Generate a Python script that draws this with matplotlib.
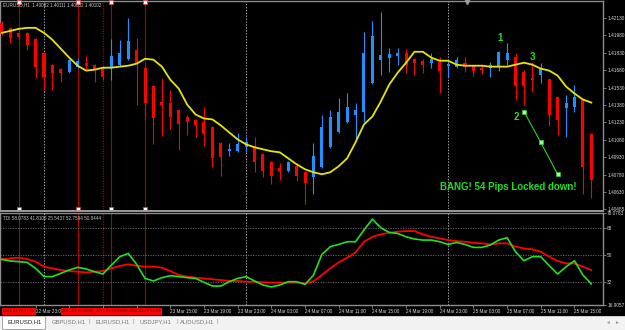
import matplotlib
matplotlib.use("Agg")
import matplotlib.pyplot as plt
from matplotlib.patches import Rectangle
import numpy as np
import pandas as pd

plt.rcParams['font.family'] = ['Liberation Sans', 'DejaVu Sans']

# ---------------- data ----------------
times = pd.date_range("2011-03-22 19:00", periods=71, freq="h")

opens = [1.42087, 1.42044, 1.42001, 1.42001, 1.41950, 1.41830, 1.41727, 1.41693, 1.41667, 1.41710,
         1.41744, 1.41727, 1.41701, 1.41710, 1.41727, 1.41778, 1.41855, 1.41701, 1.41547, 1.41410,
         1.41393, 1.41333, 1.41281, 1.41247, 1.41230, 1.41187, 1.41050, 1.40982, 1.40982, 1.41016,
         1.41024, 1.40956, 1.40887, 1.40836, 1.40810, 1.40853, 1.40801, 1.40759, 1.40844, 1.41016,
         1.41144, 1.41230, 1.41298, 1.41316, 1.41573, 1.41770, 1.41787, 1.41804, 1.41830, 1.41778,
         1.41761, 1.41744, 1.41753, 1.41718, 1.41710, 1.41744, 1.41718, 1.41701, 1.41701, 1.41710,
         1.41770, 1.41796, 1.41667, 1.41616, 1.41641, 1.41607, 1.41453, 1.41350, 1.41367, 1.41427,
         1.41127]
highs = [1.42104, 1.42053, 1.42018, 1.42010, 1.41958, 1.41838, 1.41736, 1.41701, 1.41778, 1.41787,
         1.41804, 1.41736, 1.41718, 1.41950, 1.41941, 1.42130, 1.41958, 1.41718, 1.41556, 1.41616,
         1.41513, 1.41341, 1.41290, 1.41256, 1.41367, 1.41196, 1.41059, 1.41050, 1.41136, 1.41101,
         1.41101, 1.40964, 1.40896, 1.40879, 1.40896, 1.40870, 1.40810, 1.41050, 1.41290, 1.41341,
         1.41444, 1.41487, 1.41393, 1.42010, 1.42104, 1.42181, 1.41873, 1.41873, 1.41864, 1.41787,
         1.41778, 1.41830, 1.41796, 1.41753, 1.41796, 1.41796, 1.41727, 1.41736, 1.41753, 1.41847,
         1.41915, 1.41830, 1.41684, 1.41753, 1.41744, 1.41607, 1.41453, 1.41470, 1.41556, 1.41436,
         1.41136]
lows = [1.41984, 1.41915, 1.41941, 1.41855, 1.41616, 1.41513, 1.41513, 1.41581, 1.41658, 1.41701,
        1.41684, 1.41581, 1.41598, 1.41598, 1.41718, 1.41770, 1.41384, 1.41256, 1.41041, 1.41110,
        1.41170, 1.40990, 1.41118, 1.41101, 1.41024, 1.40844, 1.40767, 1.40939, 1.40973, 1.40973,
        1.40801, 1.40759, 1.40699, 1.40733, 1.40801, 1.40724, 1.40527, 1.40613, 1.40836, 1.41007,
        1.41136, 1.41221, 1.41067, 1.41238, 1.41564, 1.41641, 1.41667, 1.41727, 1.41658, 1.41641,
        1.41658, 1.41701, 1.41487, 1.41624, 1.41701, 1.41667, 1.41633, 1.41650, 1.41624, 1.41676,
        1.41727, 1.41427, 1.41376, 1.41496, 1.41573, 1.41196, 1.41118, 1.41101, 1.41324, 1.40613,
        1.40579]
closes = [1.42001, 1.41958, 1.41967, 1.41898, 1.41710, 1.41624, 1.41658, 1.41658, 1.41770, 1.41761,
          1.41718, 1.41684, 1.41624, 1.41804, 1.41830, 1.41933, 1.41744, 1.41401, 1.41264, 1.41376,
          1.41273, 1.41213, 1.41230, 1.41204, 1.41127, 1.40921, 1.40930, 1.40999, 1.41041, 1.41059,
          1.40887, 1.40810, 1.40767, 1.40810, 1.40887, 1.40767, 1.40707, 1.40939, 1.41187, 1.41273,
          1.41324, 1.41367, 1.41333, 1.41830, 1.41975, 1.41813, 1.41821, 1.41830, 1.41727, 1.41744,
          1.41727, 1.41778, 1.41676, 1.41736, 1.41770, 1.41710, 1.41676, 1.41684, 1.41727, 1.41838,
          1.41830, 1.41547, 1.41547, 1.41598, 1.41701, 1.41298, 1.41247, 1.41393, 1.41453, 1.40844,
          1.40733]
ma = [1.42001, 1.42018, 1.42035, 1.42044, 1.42044, 1.42001, 1.41941, 1.41864, 1.41787, 1.41718,
      1.41676, 1.41684, 1.41701, 1.41701, 1.41710, 1.41718, 1.41736, 1.41778, 1.41770, 1.41710,
      1.41598, 1.41521, 1.41384, 1.41298, 1.41264, 1.41256, 1.41204, 1.41144, 1.41084, 1.41041,
      1.41016, 1.40999, 1.40982, 1.40973, 1.40921, 1.40870, 1.40827, 1.40801, 1.40784, 1.40801,
      1.40853, 1.40921, 1.41059, 1.41213, 1.41281, 1.41410, 1.41556, 1.41658, 1.41744, 1.41838,
      1.41838, 1.41787, 1.41761, 1.41761, 1.41727, 1.41718, 1.41718, 1.41718, 1.41710, 1.41710,
      1.41710, 1.41727, 1.41744, 1.41727, 1.41693, 1.41676, 1.41633, 1.41539, 1.41479, 1.41427,
      1.41401]
tdi_green = [47.1, 46.0, 45.6, 45.1, 41.1, 35.6, 35.6, 37.8, 40.0, 41.8,
             40.7, 38.9, 37.3, 43.3, 48.9, 51.1, 43.8, 34.4, 32.7, 34.9,
             36.2, 35.6, 34.9, 34.4, 31.8, 29.3, 29.3, 32.2, 34.4, 35.6,
             32.7, 30.0, 28.7, 30.0, 32.2, 32.2, 30.4, 36.5, 50.4, 55.6,
             57.1, 58.9, 58.9, 66.7, 74.0, 68.2, 65.1, 64.4, 62.2, 60.7,
             60.0, 60.0, 58.9, 57.1, 58.4, 57.1, 55.1, 55.1, 56.7, 60.0,
             61.6, 52.2, 46.2, 48.9, 48.9, 42.9, 37.3, 42.2, 46.2, 36.7,
             30.7]
tdi_red = [47.1, 47.8, 48.2, 47.3, 45.6, 42.2, 41.1, 40.0, 39.3, 38.9,
           38.4, 38.9, 39.3, 41.1, 42.7, 43.8, 42.9, 42.2, 42.2, 41.6,
           39.3, 36.7, 35.6, 34.9, 34.4, 33.8, 33.3, 32.7, 32.7, 32.2,
           32.2, 31.8, 31.6, 31.6, 31.6, 31.6, 31.1, 32.5, 36.7, 41.1,
           45.1, 48.2, 51.8, 58.9, 62.2, 63.8, 64.9, 65.6, 66.0, 66.0,
           63.8, 62.2, 61.1, 60.0, 59.3, 58.9, 58.2, 57.8, 57.1, 57.8,
           57.8, 55.6, 54.4, 53.8, 52.2, 48.9, 46.0, 44.4, 44.4, 42.2,
           40.0]

price_ticks = [1.42130, 1.41980, 1.41830, 1.41680, 1.41530, 1.41380, 1.41230,
               1.41080, 1.40930, 1.40780, 1.40630, 1.40485]
tdi_ticks = [16.9057, 32, 50, 68, 78.0783]
tdi_tick_labels = ["16.9057", "32", "50", "68", "78.0783"]

vline_idx = [2, 9, 13, 17]
vline_labels = ["2011.03.22 21:00", "2011.03.23 04:00", "2011.03.23 08:00", "2011.03.23 12:00"]
dotted_vline_idx = [12]
day_sep_idx = [5, 29, 53]
hidden_tick_idx = [8, 12, 16]   # time labels covered by the red line labels

header_text = "EURUSD,H1  1.40082 1.40111 1.40052 1.40102"
tdi_text = "TDI 58.0783 41.8100 25.5437 52.7594 50.8444"

num_labels = ["1", "2", "3"]
num_idx = [59.2, 61.05, 63.0]
num_price = [1.41958, 1.41273, 1.41795]
trend_idx = [62, 64, 66]
trend_price = [1.41324, 1.41058, 1.40784]
bang_text = "BANG! 54 Pips Locked down!"
bang_idx = 60.1
bang_price = 1.40673

tabs = ["EURUSD,H1", "GBPUSD,H1", "EURUSD,H1", "USDJPY,H1", "AUDUSD,H1"]

# ---------------- figure ----------------
W, H = 625, 330
fig = plt.figure(figsize=(W / 100, H / 100), dpi=100, facecolor="black")

def rect(x0, y0, x1, y1):
    return [x0 / W, 1 - y1 / H, (x1 - x0) / W, (y1 - y0) / H]

ax_up = fig.add_axes(rect(0, 1, 603, 209))
ax_lo = fig.add_axes(rect(0, 213, 603, 304.6))

idx = np.arange(len(opens))
o = np.array(opens); h = np.array(highs); l = np.array(lows); c = np.array(closes)
bull = c >= o
cols = np.where(bull, "#1E90FF", "#FF0000")

xlim = (5 - 44 / 8.42, 5 + 559 / 8.42)
GRAY = "#8C8C8C"
TXT = "#D8D8D8"

for ax in (ax_up, ax_lo):
    ax.set_facecolor("black")
    ax.set_xlim(*xlim)
    for s in ax.spines.values():
        s.set_color(GRAY)
        s.set_linewidth(1.0)
    for d in day_sep_idx:
        ax.axvline(d, color="#A0A0A0", lw=0.7, ls=(0, (1.5, 1.5)), zorder=1)
    for v in vline_idx:
        ax.axvline(v, color="#B00000", lw=0.8, zorder=1)
    for v in dotted_vline_idx:
        ax.axvline(v, color="#B00000", lw=0.9, ls=(0, (1, 1)), zorder=1)

# upper panel
ax_up.set_ylim(1.40493, 1.42275)
ax_up.spines["bottom"].set_visible(False)
ax_up.vlines(idx, l, h, colors=cols, lw=0.8, zorder=3)
body_lo = np.minimum(o, c)
body_h = np.maximum(np.abs(c - o), 0.00009)
ax_up.bar(idx, body_h, bottom=body_lo, width=0.36, color=cols, lw=0, zorder=4)
ax_up.plot(idx, ma, color="#E6E600", lw=1.3, zorder=5)
ax_up.set_xticks([])
ax_up.yaxis.tick_right()
ax_up.set_yticks(price_ticks)
ax_up.set_yticklabels([f"{p:.5f}" for p in price_ticks])
ax_up.tick_params(axis="y", colors=GRAY, labelcolor=TXT, labelsize=3.4, length=2, width=0.6, pad=1)

# handles on vertical lines
tr = ax_up.get_xaxis_transform()
ax_up.plot(vline_idx, [0.995] * len(vline_idx), ls="none", marker="s", ms=2.2, mfc="white",
           mec="#FF3030", mew=0.5, transform=tr, clip_on=False, zorder=6)
ax_up.plot(vline_idx, [0.0] * len(vline_idx), ls="none", marker="s", ms=2.2, mfc="white",
           mec="#FF3030", mew=0.5, transform=tr, clip_on=False, zorder=6)

# annotations
GREEN = "#22DD22"
for t, xi, yp in zip(num_labels, num_idx, num_price):
    ax_up.text(xi, yp, t, color=GREEN, fontsize=7, fontweight="bold", ha="center", va="center", zorder=7)
ax_up.plot(trend_idx, trend_price, color="#33CC33", lw=0.8, marker="s", ms=2.2,
           mfc="#99FF99", mec="#33CC33", mew=0.5, zorder=7)
ax_up.text(bang_idx, bang_price, bang_text, color=GREEN, fontsize=7, fontweight="bold",
           ha="center", va="center", zorder=7)
fig.text(3 / W, 1 - 5 / H, header_text, color="#C8C8C8", fontsize=3.3, ha="left", va="center")
fig.add_artist(plt.Line2D([467 / W], [1 - 2 / H], marker="v", ms=3, color="#9A9A9A", ls="none"))

# lower panel
ax_lo.set_ylim(16.9057, 78.0783)
for g in (32, 50, 68):
    ax_lo.axhline(g, color="#707070", lw=0.6, ls=(0, (1.5, 1.5)), zorder=1)
ax_lo.plot(idx, tdi_green, color="#22E022", lw=1.2, zorder=4)
ax_lo.plot(idx, tdi_red, color="#FF0000", lw=1.3, zorder=3)
ax_lo.yaxis.tick_right()
ax_lo.set_yticks(tdi_ticks)
ax_lo.set_yticklabels(tdi_tick_labels)
ax_lo.tick_params(axis="y", colors=GRAY, labelcolor=TXT, labelsize=3.4, length=2, width=0.6, pad=1)
tick_idx = list(range(4, len(times), 4))
ax_lo.set_xticks(tick_idx)
ax_lo.set_xticklabels(["" if i in hidden_tick_idx else times[i].strftime("%d %b %H:%M")
                       for i in tick_idx], ha="left")
ax_lo.tick_params(axis="x", colors=GRAY, labelcolor=TXT, labelsize=3.3, length=2, width=0.6, pad=1.5)
fig.text(3 / W, 1 - 219 / H, tdi_text, color="#C8C8C8", fontsize=3.3, ha="left", va="center")

# red labels of vertical lines on the time axis
trx = ax_lo.get_xaxis_transform()
for v, lab in zip(vline_idx, vline_labels):
    ax_lo.text(v, -0.072, lab, transform=trx, ha="center", va="center", fontsize=2.95, color="#300000",
               bbox=dict(boxstyle="square,pad=0.35", fc="#FF0000", ec="none"), clip_on=False, zorder=8)

# separator between panels
fig.add_artist(plt.Line2D([0, 603 / W], [1 - 211 / H] * 2, color="#9A9A9A", lw=1.4))

# tab bar
fig.add_artist(Rectangle((0, 0), 1, 14 / H, transform=fig.transFigure, fc="#F2F2F2", ec="none"))
fig.add_artist(plt.Line2D([0, 1], [14 / H] * 2, color="#C8C8C8", lw=0.6))
fig.add_artist(Rectangle((2 / W, 1 / H), 43 / W, 13 / H, transform=fig.transFigure, fc="white",
                         ec="#9A9A9A", lw=0.6))
tab_x = [7, 52, 96, 140, 180]
for i, (tx, t) in enumerate(zip(tab_x, tabs)):
    fig.text(tx / W, 1 - 322 / H, t, color="#202020" if i == 0 else "#7A7A7A", fontsize=4.2,
             ha="left", va="center")
    if i > 0:
        fig.text((tx + 37) / W, 1 - 322 / H, "|", color="#9A9A9A", fontsize=4.5, ha="center", va="center")
fig.text(607 / W, 1 - 322 / H, "◄", color="#9A9A9A", fontsize=3.5, ha="center", va="center")
fig.text(616 / W, 1 - 322 / H, "►", color="#9A9A9A", fontsize=3.5, ha="center", va="center")

fig.savefig("out.png", dpi=100, facecolor="black")
